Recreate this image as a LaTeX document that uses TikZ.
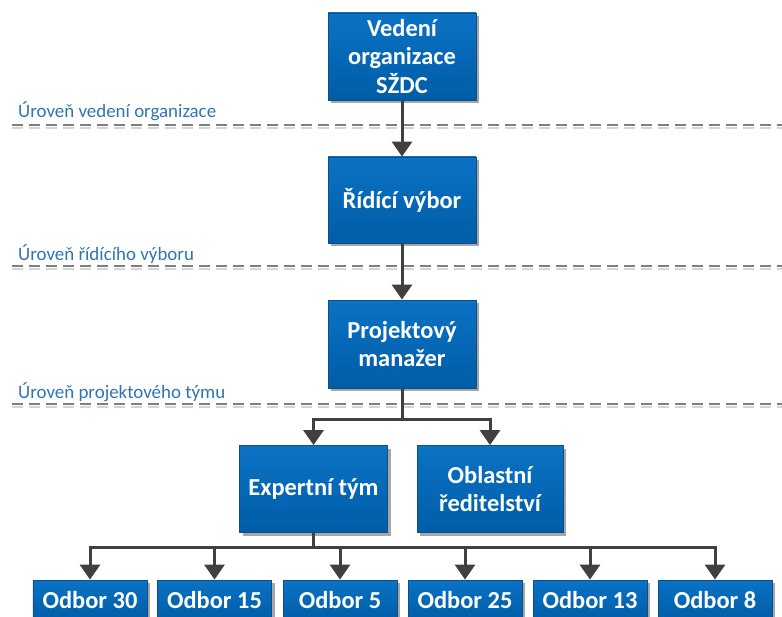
\documentclass[tikz,border=0pt]{standalone}
\usepackage{fontspec}
\setmainfont{Carlito}
\usetikzlibrary{arrows.meta,shadows}
\definecolor{boxtop}{HTML}{0B72C4}
\definecolor{boxbot}{HTML}{005DA8}
\definecolor{boxedge}{HTML}{0D4F8B}
\definecolor{conn}{HTML}{404040}
\definecolor{lvltext}{HTML}{2E75B6}
\definecolor{lvlline}{HTML}{7F7F7F}
\definecolor{lvlshade}{HTML}{D4D4D4}
\begin{document}
\begin{tikzpicture}[x=1bp,y=-1bp,
  unit/.style={draw=boxedge, line width=0.8bp, top color=boxtop, bottom color=boxbot,
    text=white, font=\bfseries\fontsize{24.5}{28.5}\selectfont, align=center, inner sep=0pt,
    drop shadow={shadow xshift=3bp, shadow yshift=-3bp, opacity=0.35, fill=black}},
  bigunit/.style={unit, minimum width=148bp, minimum height=87bp},
  smallunit/.style={unit, minimum width=114bp, minimum height=40bp},
  link/.style={draw=conn, line width=3bp},
  arr/.style={link, -{Triangle[length=15bp,width=20bp]}},
  lvl/.style={text=lvltext, font=\fontsize{19}{22}\selectfont, inner sep=0pt, anchor=base west},
  lvldash/.style={draw=lvlline, line width=1.4bp, dash pattern=on 11bp off 6bp},
  lvlshadow/.style={draw=lvlshade, line width=1.8bp, dash pattern=on 11bp off 6bp}
]
\useasboundingbox (0,0) rectangle (782,617);
\clip (0,0) rectangle (782,617);

% level separators
\foreach \y in {125,266,404}{
  \draw[lvlshadow] (12,\y+3) -- (782,\y+3);
  \draw[lvldash] (12,\y) -- (782,\y);
}
\node[lvl] (lv1) at (18,118) {Úroveň vedení organizace};
\node[lvl] (lv2) at (18,260) {Úroveň řídícího výboru};
\node[lvl] (lv3) at (18,398) {Úroveň projektového týmu};

% hierarchy boxes
\node[bigunit] (top) at (402,56.5) {Vedení\\organizace\\SŽDC};
\node[bigunit, minimum height=86bp] (ridici) at (402,200) {Řídící výbor};
\node[bigunit, minimum height=88bp] (pm) at (402,344) {Projektový\\manažer};
\node[bigunit] (expert) at (313.5,489) {Expertní tým};
\node[bigunit, minimum width=146bp] (obl) at (490,489) {Oblastní\\ředitelství};

\node[smallunit] (o30) at (90,600) {Odbor 30};
\node[smallunit] (o15) at (214.5,600) {Odbor 15};
\node[smallunit] (o5)  at (340,600) {Odbor 5};
\node[smallunit] (o25) at (465,600) {Odbor 25};
\node[smallunit] (o13) at (590,600) {Odbor 13};
\node[smallunit] (o8)  at (715,600) {Odbor 8};

% connectors
\coordinate (fork1) at (402,419);
\coordinate (fork2) at (313.5,547);
\draw[arr] (top.south) -- (ridici.north);
\draw[arr] (ridici.south) -- (pm.north);
\draw[link] (pm.south) -- (fork1);
\draw[arr] (fork1) -| (expert.north);
\draw[arr] (fork1) -| (obl.north);
\draw[link] (expert.south) -- (fork2);
\foreach \n in {o30,o15,o5,o25,o13,o8}{
  \draw[arr] (fork2) -| (\n.north);
}
\end{tikzpicture}
\end{document}
